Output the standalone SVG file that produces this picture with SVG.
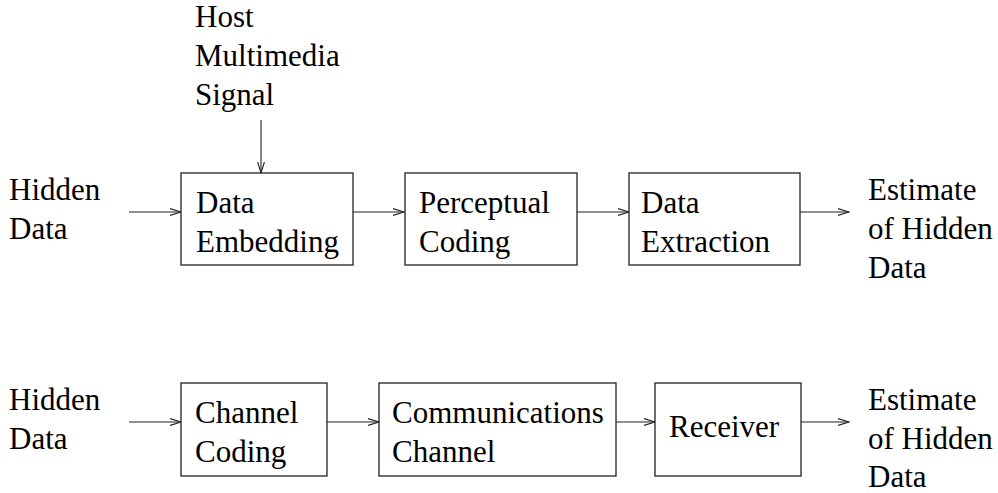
<svg xmlns="http://www.w3.org/2000/svg" width="998" height="493" viewBox="0 0 998 493">
<style>
.box{fill:#fff;stroke:#222;stroke-width:1.3}
.conn{stroke:#222;stroke-width:1.1;fill:none;marker-end:url(#ah)}
</style>
<defs>
<marker id="ah" markerUnits="userSpaceOnUse" markerWidth="12" markerHeight="10" viewBox="0 0 12 10" refX="11" refY="5" orient="auto">
<path d="M0,1.6 L11,5 L0,8.4" fill="none" stroke="#222" stroke-width="1.1"/>
</marker>
</defs>
<rect width="998" height="493" fill="#fff"/>
<g id="connectors">
<line class="conn" x1="129" y1="212" x2="181" y2="212"/>
<line class="conn" x1="261" y1="120" x2="261" y2="173"/>
<line class="conn" x1="353" y1="212" x2="404" y2="212"/>
<line class="conn" x1="577" y1="212" x2="629" y2="212"/>
<line class="conn" x1="800" y1="212" x2="849" y2="212"/>
<line class="conn" x1="129" y1="422" x2="181" y2="422"/>
<line class="conn" x1="327" y1="422" x2="379" y2="422"/>
<line class="conn" x1="616" y1="422" x2="655" y2="422"/>
<line class="conn" x1="801" y1="422" x2="849" y2="422"/>
</g>
<g font-family="Liberation Serif, DejaVu Serif, serif" font-size="31" fill="#000">
<g id="host-signal">
<text x="195" y="27">Host</text>
<text x="195" y="66">Multimedia</text>
<text x="195" y="105">Signal</text>
</g>
<g id="hidden-data-1"><text x="9" y="200">Hidden</text><text x="9" y="239">Data</text></g>
<g id="data-embedding"><rect class="box" x="181" y="173" width="172" height="92"/><text x="196" y="213">Data</text><text x="196" y="252">Embedding</text></g>
<g id="perceptual-coding"><rect class="box" x="405" y="173" width="172" height="92"/><text x="419" y="213">Perceptual</text><text x="419" y="252">Coding</text></g>
<g id="data-extraction"><rect class="box" x="629" y="173" width="171" height="92"/><text x="641" y="213">Data</text><text x="641" y="252">Extraction</text></g>
<g id="estimate-1"><text x="868" y="200">Estimate</text><text x="868" y="239">of Hidden</text><text x="868" y="278">Data</text></g>
<g id="hidden-data-2"><text x="9" y="410">Hidden</text><text x="9" y="449">Data</text></g>
<g id="channel-coding"><rect class="box" x="181" y="383" width="146" height="93"/><text x="195" y="423">Channel</text><text x="195" y="462">Coding</text></g>
<g id="communications-channel"><rect class="box" x="379" y="383" width="237" height="93"/><text x="392" y="423">Communications</text><text x="392" y="462">Channel</text></g>
<g id="receiver"><rect class="box" x="655" y="383" width="146" height="93"/><text x="669" y="437">Receiver</text></g>
<g id="estimate-2"><text x="868" y="410">Estimate</text><text x="868" y="449">of Hidden</text><text x="868" y="487">Data</text></g>
</g>
</svg>
